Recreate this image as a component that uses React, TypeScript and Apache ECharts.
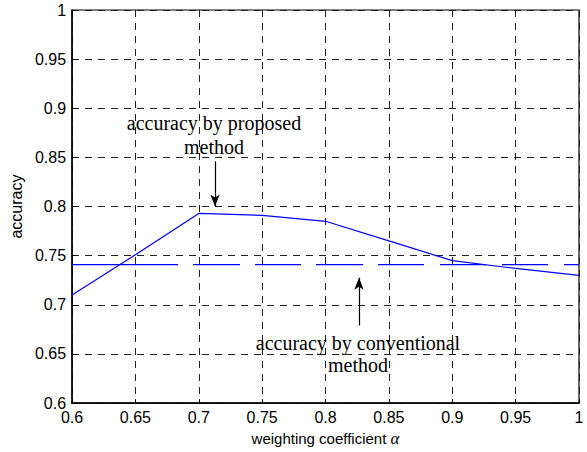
import React, { useEffect, useRef } from "react";
import * as echarts from "echarts";

const alphaValues = [0.6, 0.65, 0.7, 0.75, 0.8, 0.85, 0.9, 0.95, 1.0];
const proposedAccuracy = [0.71, 0.751, 0.793, 0.791, 0.785, 0.765, 0.745, 0.737, 0.73];
const conventionalAccuracy = 0.741;

export default function App() {
  const ref = useRef<HTMLDivElement>(null);
  useEffect(() => {
    if (!ref.current) return;
    const chart = echarts.init(ref.current, null, { renderer: "svg" });
    const fmt = (v: number) => String(Math.round(v * 100) / 100);
    const gridLine = { show: true, lineStyle: { color: "#222", type: [7, 6] as any, width: 1 } };
    const tickLabel = {
      fontFamily: "Liberation Sans, Arial",
      fontSize: 16,
      color: "#000",
      margin: 6,
      formatter: (v: number) => fmt(v),
      showMinLabel: true,
      showMaxLabel: true,
    };
    chart.setOption({
      animation: false,
      backgroundColor: "#fff",
      grid: {
        left: 71,
        top: 10,
        right: 8,
        bottom: 43,
        show: true,
        borderColor: "#000",
        borderWidth: 1.2,
      },
      xAxis: {
        type: "value",
        min: 0.6,
        max: 1,
        interval: 0.05,
        name: "weighting coefficient {a|α}",
        nameLocation: "middle",
        nameGap: 24,
        nameTextStyle: {
          fontFamily: "Liberation Sans, Arial",
          fontSize: 15,
          color: "#000",
          rich: { a: { fontFamily: "Liberation Serif", fontStyle: "italic", fontSize: 17, color: "#000" } },
        },
        axisLine: { show: true, onZero: false, lineStyle: { color: "#000", width: 1.5 } },
        axisTick: { show: true, inside: true, length: 4, lineStyle: { color: "#000" } },
        axisLabel: tickLabel,
        splitLine: gridLine,
      },
      yAxis: {
        type: "value",
        min: 0.6,
        max: 1,
        interval: 0.05,
        name: "accuracy",
        nameLocation: "middle",
        nameGap: 40,
        nameTextStyle: { fontFamily: "Liberation Sans, Arial", fontSize: 16, color: "#000" },
        axisLine: { show: true, onZero: false, lineStyle: { color: "#000", width: 1.5 } },
        axisTick: { show: true, inside: true, length: 4, lineStyle: { color: "#000" } },
        axisLabel: tickLabel,
        splitLine: gridLine,
      },
      series: [
        {
          type: "line",
          data: alphaValues.map((a, i) => [a, proposedAccuracy[i]]),
          showSymbol: false,
          lineStyle: { color: "#0000ff", width: 1.2 },
          z: 3,
        },
        {
          type: "line",
          data: [
            [alphaValues[0], conventionalAccuracy],
            [alphaValues[alphaValues.length - 1], conventionalAccuracy],
          ],
          showSymbol: false,
          lineStyle: {
            color: "#0000ff",
            width: 1.2,
            type: [106, 15, 47, 15, 46, 15, 47, 15, 46, 16, 46, 16, 46, 16, 46, 16, 46] as any,
          },
          z: 3,
          markLine: {
            silent: true,
            symbol: ["none", "arrow"],
            symbolSize: [7, 12],
            label: { show: false },
            lineStyle: { color: "#000", type: "solid", width: 1.2 },
            data: [
              [{ coord: [0.7128, 0.846] }, { coord: [0.7128, 0.8] }],
              [{ coord: [0.8264, 0.679] }, { coord: [0.8264, 0.7276] }],
            ],
          },
        },
      ],
      graphic: [
        {
          type: "text",
          x: 214,
          y: 135,
          style: {
            text: "accuracy by proposed\nmethod",
            fontFamily: "Liberation Serif, Times New Roman",
            fontSize: 20,
            lineHeight: 24,
            fill: "#000",
            align: "center",
            verticalAlign: "middle",
          },
          z: 10,
        },
        {
          type: "text",
          x: 358,
          y: 354,
          style: {
            text: "accuracy by conventional\nmethod",
            fontFamily: "Liberation Serif, Times New Roman",
            fontSize: 20,
            lineHeight: 22,
            fill: "#000",
            align: "center",
            verticalAlign: "middle",
          },
          z: 10,
        },
      ],
    });
    return () => chart.dispose();
  }, []);
  return (
    <div
      ref={ref}
      style={{ position: "fixed", left: 0, top: 0, width: 587, height: 452, background: "#fff" }}
    />
  );
}
